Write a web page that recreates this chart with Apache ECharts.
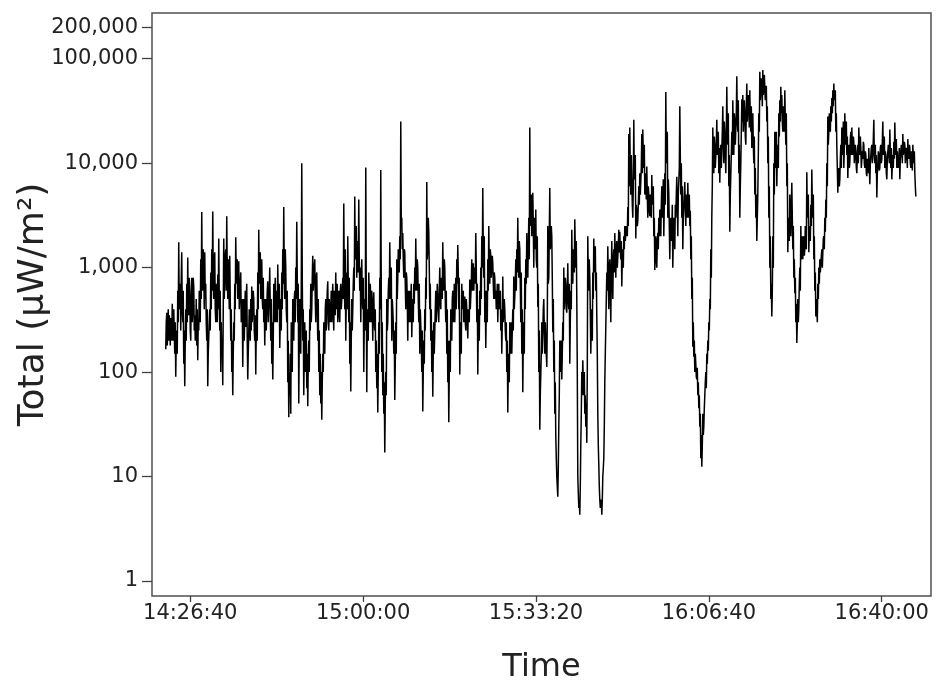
<!DOCTYPE html>
<html><head><meta charset="utf-8">
<script src="https://cdn.jsdelivr.net/npm/echarts@6/dist/echarts.min.js"></script>
<style>html,body{margin:0;padding:0;background:#fff}#c{width:945px;height:691px}</style>
</head><body><div id="c"></div>
<script>
// Sampling: regular time base
const startTime = '14:21:57';
const stepSeconds = 5.785;
// Total irradiance (µW/m²), one reading per sample
const values = [
165,300,370,180,250,400,200,350,300,180,330,220,200,450,280,200,400,250,150,300,
90,200,250,150,600,300,1750,400,500,700,250,800,1400,400,300,600,120,250,73,200,
400,200,700,300,1250,400,350,800,600,250,200,500,800,300,400,800,660,250,350,200,
250,500,180,400,130,300,250,600,500,300,1200,500,3400,700,600,1500,1000,400,1400,500,
700,300,200,400,73,150,150,300,400,250,900,400,1500,600,3450,800,500,1200,1400,400,
300,700,600,300,860,400,1900,500,250,600,100,300,150,200,75,400,1900,500,800,1300,
1500,600,3100,900,500,1200,800,400,1300,500,200,400,100,200,60,150,300,200,700,400,
1950,800,700,1200,500,900,1150,400,400,700,900,300,300,500,112,300,500,200,350,600,
270,500,700,200,85,150,150,400,300,200,500,250,660,300,300,600,500,250,200,350,
95,250,400,200,900,400,2300,700,800,1400,500,900,1200,500,400,800,300,500,180,400,
500,250,400,600,740,300,300,600,1000,400,200,500,120,300,85,200,700,300,500,800,
300,600,600,300,1070,500,400,700,170,300,500,250,900,400,1500,700,3800,900,500,1500,
1000,400,300,600,80,200,37,100,
60,150,40,300,150,100,500,250,200,500,600,300,1000,500,2750,800,300,700,50,200,
500,250,150,600,10000,800,200,400,60,150,300,100,100,250,70,150,47,120,200,100,
400,250,700,300,400,800,1300,600,600,1000,1200,500,300,800,900,400,200,500,100,250,
60,150,50,100,35,80,150,100,300,200,150,400,500,250,400,600,740,300,250,500,
500,300,400,600,300,500,700,350,250,600,500,350,900,400,400,700,300,500,600,350,
300,600,700,400,400,600,800,500,4100,900,400,1500,200,500,900,400,2000,700,300,800,
120,300,65,200,500,250,400,700,1000,600,4800,1200,1500,2500,800,1800,1500,900,4500,1200,
600,1000,300,700,1200,500,400,800,100,300,500,250,9100,600,64,300,400,200,900,500,
300,700,500,300,600,400,200,450,580,300,250,400,100,200,70,150,41,100,300,150,
800,400,8600,600,100,300,60,150,40,80,17,50,100,60,500,250,300,600,800,500,
1750,700,500,1000,200,500,400,300,150,250,54,120,300,150,1200,500,800,1500,1500,900,
2000,1200,25000,2500,3000,1500,2150,1200,800,1500,1400,700,400,900,800,500,200,600,300,400,
600,300,400,700,215,400,500,300,700,450,1000,600,
1900,800,600,1200,1000,500,300,700,150,400,400,200,100,250,42,100,200,120,400,250,
800,500,6600,1200,1500,3000,2200,1000,400,700,200,400,100,250,58,150,300,150,150,400,
600,300,400,700,720,400,300,600,1000,500,400,800,800,500,1750,800,600,1200,1000,500,
300,600,150,400,80,200,33,100,200,100,400,250,200,500,600,300,400,700,300,500,
800,400,1200,700,1650,900,400,800,95,250,300,150,700,400,400,600,300,500,530,300,
250,500,400,300,210,400,400,300,770,400,400,700,1200,600,800,1100,600,900,1000,700,
2150,1000,300,700,95,250,400,200,600,350,1000,500,2000,1000,5800,1500,800,2000,300,600,
170,400,600,300,1200,600,2500,1000,700,1500,1300,800,800,1300,1100,700,500,900,800,500,
600,400,490,700,300,500,700,400,400,600,250,400,150,300,820,300,300,500,400,250,
200,300,100,200,41,100,150,80,300,150,200,300,150,250,400,250,820,400,400,700,
1200,600,1500,900,3000,1200,800,1800,1500,700,300,900,150,400,64,200,300,150,800,400,
1200,700,2150,1000,800,1500,3000,1200,22000,2500,3000,5000,2000,3500,5200,2500,1000,3000,2000,1500,
3600,1200,1000,2000,420,700,100,250,28,60,
60,150,300,150,240,400,500,250,150,300,300,150,112,300,2500,700,800,2000,5800,1500,
1500,2500,2000,800,240,500,100,200,40,80,24,15,10,8,6.4,12,30,60,200,100,
120,200,85,150,300,200,1000,400,500,800,700,400,370,600,1100,500,400,700,120,300,
600,400,2300,900,700,1500,1500,900,2900,1500,1000,1800,500,100,10,7,5,6,4.3,8,
20,40,100,60,130,80,60,100,40,60,30,50,21,100,2000,800,600,1200,800,400,
150,300,400,200,900,500,1900,900,1200,1600,600,900,340,150,40,20,13,8,6,5,
5,6,4.3,6,10,12,15,30,80,150,270,500,900,600,1600,800,400,1000,1200,600,
300,900,1800,800,500,1200,1500,900,2150,1300,800,1500,1800,1000,1000,1600,2300,1400,2200,1500,
1200,1800,660,1200,1500,1000,2000,1500,2500,1800,1800,2500,2600,2000,3800,2500,19000,6000,22000,9000,
5000,12000,7000,4000,3000,6000,26000,7000,8000,12000,1900,4000,3500,2500,2800,4000,6000,4000,8000,5000,
5000,9000,19000,8000,21000,12000,9000,15000,5000,8000,7000,4500,9300,5000,3000,6000,5000,3500,3100,5000,
4500,3000,7700,4000,4000,6000,2000,3000,950,1500,2000,1200,1000,1800,2150,1500,3000,2000,3600,2500,
2000,4000,6000,3000,4500,7000,
2000,4000,8000,4000,48000,12000,10000,20000,3000,7000,5000,2500,1200,2500,3000,1800,2200,4000,1000,2000,
3000,2000,1500,4000,3000,5000,7400,4000,2000,5000,5000,9000,35000,12000,5000,10000,3000,6000,1500,3000,
3000,5000,6600,3500,2500,5000,4000,3000,6500,4000,3000,5000,2500,3500,1200,2000,500,800,175,300,
140,200,100,150,120,90,85,110,60,80,45,60,30,40,15,25,12.4,20,40,25,
30,45,60,80,100,70,150,120,200,160,300,250,500,400,1500,800,3100,6000,22000,10000,
8000,18000,15000,9000,9000,15000,26000,12000,12000,20000,8000,14000,6500,12000,15000,9000,9300,20000,35000,15000,
10000,25000,20000,12000,8000,18000,54000,20000,15000,30000,6000,12000,2200,5000,5000,12000,20000,12000,40000,18000,
12000,30000,25000,15000,15000,30000,68000,25000,20000,40000,8000,15000,3000,6000,10000,20000,41000,25000,45000,20000,
20000,40000,30000,18000,15000,35000,58000,25000,25000,45000,40000,22000,50000,25000,20000,35000,14000,25000,30000,15000,
10000,18000,5000,9000,3000,5000,1800,3000,5000,12000,30000,20000,75000,40000,40000,65000,60000,35000,78000,45000,
50000,70000,70000,40000,40000,55000,25000,35000,10000,18000,3000,6000,1000,2000,500,700,340,600,2000,1000,
10000,5000,20000,9000,12000,20000,6000,12000,15000,9000,30000,18000,40000,25000,54000,30000,45000,25000,20000,35000,
30000,20000,50000,25000,15000,30000,6000,10000,1400,3000,3000,1800,5000,2500,
2000,4000,6500,3000,1500,2500,800,1200,570,800,300,450,190,300,500,300,400,700,1000,600,
2500,1200,1500,2000,1200,1800,2000,1300,1500,2500,2200,1500,8200,3000,3000,5000,1400,2500,2500,1800,
4000,2500,8700,4000,3000,5000,1200,2000,600,900,340,500,400,300,700,500,1000,700,1200,900,
900,1300,1500,1000,1400,1900,2000,1500,3000,2200,4500,3000,10000,6000,28000,15000,20000,30000,30000,20000,
35000,25000,42000,30000,50000,35000,58000,40000,40000,50000,20000,30000,14500,9000,5200,8000,9000,6000,7000,11000,
15000,9000,22000,12000,15000,25000,9000,14000,30000,15000,18000,25000,12000,18000,7200,12000,15000,9000,10000,17000,
20000,12000,22000,14000,12000,18000,16000,10000,10000,15000,13000,9000,8000,12000,15000,10000,22000,13000,12000,18000,
14000,9000,9000,13000,11000,16000,15000,10000,9000,13000,12000,8000,7500,11000,11000,8000,14000,9000,6300,10000,
10000,14000,15000,10000,12000,17000,26000,12000,10000,15000,8000,12000,4700,8000,9000,13000,12000,8500,9000,14000,
15000,10000,11000,16000,25000,12000,13000,18000,9000,13000,12000,8000,7000,11000,11000,15000,15000,10000,21000,13000,
9000,14000,7000,10000,12000,9000,16000,11000,24500,14000,12000,17000,9000,13000,13000,9000,10000,14000,7000,11000,
11000,15000,14000,10000,19000,12000,12000,16000,15000,10000,10000,14000,13000,9000,17000,12000,11000,15000,14000,10000,
9000,13000,12000,8500,15000,11000,10000,13000,8000,6000,4800
];
const xTickLabels = ['14:26:40', '15:00:00', '15:33:20', '16:06:40', '16:40:00'];
const xRange = ['14:19:18', '16:49:30'];
const yTickValues = [1, 10, 100, 1000, 10000, 100000, 200000];
const yRange = [0.718, 274000];

function toSec(s) { const p = s.split(':').map(Number); return p[0] * 3600 + p[1] * 60 + p[2]; }
function toHMS(sec) {
  sec = Math.round(sec);
  const h = Math.floor(sec / 3600), m = Math.floor((sec % 3600) / 60), s = sec % 60;
  return h + ':' + String(m).padStart(2, '0') + ':' + String(s).padStart(2, '0');
}
const t0 = toSec(startTime);
const seriesData = values.map((v, i) => [t0 + i * stepSeconds, v]);
const xTicks = xTickLabels.map(toSec);
const yTicksLog = yTickValues.map(v => Math.log10(v));

const FONT = 'DejaVu Sans';
const chart = echarts.init(document.getElementById('c'), null, { renderer: 'canvas' });
chart.setOption({
  animation: false,
  backgroundColor: '#ffffff',
  grid: {
    left: 152, right: 14, top: 13, bottom: 95,
    show: true, borderColor: '#505050', borderWidth: 1.5,
    outerBoundsMode: 'none'
  },
  xAxis: {
    type: 'value',
    min: toSec(xRange[0]), max: toSec(xRange[1]),
    axisLine: { show: false, onZero: false },
    splitLine: { show: false },
    axisTick: { show: true, customValues: xTicks, length: 6, lineStyle: { color: '#404040', width: 1.3 } },
    axisLabel: {
      customValues: xTicks, formatter: v => toHMS(v), margin: 7,
      color: '#222', fontFamily: FONT, fontSize: 21
    },
    name: 'Time', nameLocation: 'middle', nameGap: 56, nameMoveOverlap: false,
    nameTextStyle: { color: '#222', fontFamily: FONT, fontSize: 32 }
  },
  yAxis: [
    {
      type: 'log', logBase: 10, min: yRange[0], max: yRange[1], show: false
    },
    {
      type: 'value', position: 'left',
      min: Math.log10(yRange[0]), max: Math.log10(yRange[1]),
      axisLine: { show: false, onZero: false },
      splitLine: { show: false },
      axisTick: { show: true, customValues: yTicksLog, length: 10, lineStyle: { color: '#404040', width: 1.3 } },
      axisLabel: {
        customValues: yTicksLog,
        formatter: v => Math.round(Math.pow(10, v)).toLocaleString('en-US'),
        margin: 14, padding: [4, 0, 0, 0], color: '#222', fontFamily: FONT, fontSize: 21
      },
      name: 'Total (μW/m²)', nameLocation: 'middle', nameGap: 100, nameMoveOverlap: false,
      nameTextStyle: { color: '#222', fontFamily: FONT, fontSize: 36 }
    }
  ],
  series: [{
    type: 'line', yAxisIndex: 0, data: seriesData,
    showSymbol: false, symbol: 'none',
    lineStyle: { color: '#000', width: 1.5 },
    sampling: null, large: false, progressive: 0
  }]
});
</script></body></html>
